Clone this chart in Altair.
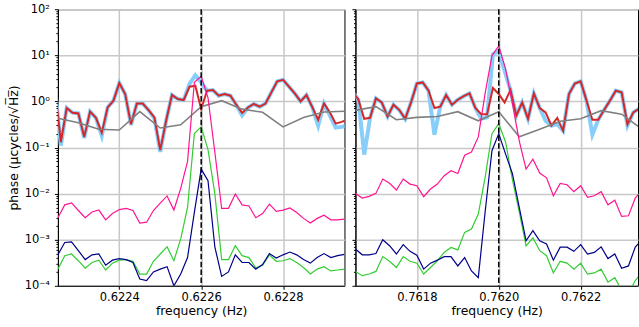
import altair as alt
import pandas as pd

CENTER_L = 0.6226
CENTER_R = 0.7620
FINE_STEP = 50.0 / 3.0    # microHz, pink / green / blue
RED_STEP = 100.0 / 7.0    # microHz, red / light blue
GRAY_STEP = 50.0          # microHz, gray

# ---------------- left panel (around 0.6226 Hz) ----------------
L_red = [2.0, 0.13, 0.72, 0.57, 0.55, 0.17, 0.60, 0.44, 0.21, 0.74, 1.04, 2.5, 1.45, 0.32, 0.9, 0.9,
         0.65, 0.45, 0.088, 0.38, 1.38, 1.13, 1.07, 2.08, 2.19, 0.68, 1.71, 1.77, 1.33, 1.45, 1.33,
         0.85, 0.56, 0.74, 0.88, 0.77, 0.9, 1.57, 2.72, 2.95, 2.1, 1.49, 1.0, 1.38, 0.75, 0.40, 0.9,
         0.58, 0.33, 0.36, 0.40]
L_lblue = [2.0, 0.11, 0.72, 0.57, 0.55, 0.16, 0.60, 0.44, 0.18, 0.74, 1.04, 2.5, 1.45, 0.31, 0.9, 0.9,
           0.65, 0.43, 0.08, 0.38, 1.38, 1.13, 1.07, 2.4, 3.7, 2.6, 1.71, 1.77, 1.33, 1.45, 1.33,
           0.85, 0.5, 0.74, 0.88, 0.77, 0.9, 1.57, 2.72, 2.95, 2.1, 1.49, 1.0, 1.38, 0.75, 0.30, 0.9,
           0.5, 0.27, 0.28, 0.3]
L_gray = [0.43, 0.345, 0.25, 0.24, 0.60, 0.265, 0.31, 0.77, 1.04, 0.68, 0.58, 0.28, 0.45, 0.59, 0.61]
L_pink = [0.0030, 0.0057, 0.0063, 0.0043, 0.0030, 0.0040, 0.0044, 0.0027, 0.0037, 0.0045, 0.0048,
          0.0043, 0.0023, 0.0024, 0.0043, 0.0062, 0.0089, 0.0044, 0.013, 0.05, 2.6, 3.5, 1.2, 0.08,
          0.0048, 0.0048, 0.0098, 0.0057, 0.0054, 0.0030, 0.0037, 0.0059, 0.0041, 0.0044, 0.0049,
          0.0039, 0.0029, 0.0023, 0.0029, 0.0034, 0.0027, 0.0027, 0.0028]
L_green = [0.00023, 0.00045, 0.00049, 0.00035, 0.00024, 0.00032, 0.00036, 0.00022, 0.00031, 0.00036,
           0.00037, 0.00034, 0.00018, 0.00018, 0.00034, 0.00049, 0.0007, 0.00035, 0.00104, 0.005, 0.2,
           0.28, 0.09, 0.01, 0.00037, 0.00037, 0.00074, 0.00045, 0.00041, 0.000245, 0.00028, 0.00047,
           0.00034, 0.00035, 0.00039, 0.00032, 0.00025, 0.00018, 0.00023, 0.00026, 0.00021, 0.00022,
           0.00023]
L_blue = [0.00047, 0.00087, 0.0009, 0.00058, 0.00037, 0.00047, 0.00049, 0.00028, 0.00036, 0.00039,
          0.00037, 0.00032, 0.00014, 0.00013, 0.0002, 0.00023, 0.00026, 0.0001, 0.00018, 0.00041,
          0.0039, 0.034, 0.019, 0.0007, 0.00016, 0.0002, 0.00047, 0.00032, 0.00032, 0.00023, 0.00029,
          0.0005, 0.0004, 0.00047, 0.00054, 0.00047, 0.00037, 0.00031, 0.00041, 0.0005, 0.00041,
          0.00045, 0.00048]

# ---------------- right panel (around 0.7620 Hz) ----------------
R_red = [1.6, 1.1, 0.42, 0.44, 1.16, 0.95, 0.47, 0.85, 0.65, 0.42, 0.95, 2.45, 2.58, 1.71, 0.72, 0.77,
         1.38, 0.85, 1.09, 1.3, 1.49, 0.72, 0.53, 0.53, 1.95, 1.45, 0.95, 1.77, 0.49, 0.95, 0.42, 1.49,
         0.72, 0.58, 0.30, 0.44, 0.23, 1.45, 2.45, 2.72, 1.04, 0.40, 0.40, 0.65, 1.04, 1.71, 1.57, 0.32,
         0.58, 0.7, 0.7]
R_lblue = [1.6, 1.1, 0.07, 0.44, 1.16, 0.95, 0.47, 0.85, 0.65, 0.42, 0.95, 2.45, 2.58, 1.71, 0.19, 0.77,
           1.38, 0.85, 1.09, 1.3, 1.49, 0.72, 0.42, 0.45, 10.6, 12.6, 4.6, 1.77, 0.49, 0.95, 0.42, 1.49,
           0.72, 0.38, 0.30, 0.32, 0.23, 1.45, 2.45, 2.72, 1.04, 0.19, 0.40, 0.65, 1.04, 1.71, 1.57, 0.3,
           0.58, 0.7, 0.7]
R_gray = [0.64, 0.77, 0.40, 0.45, 0.47, 0.60, 0.38, 0.60, 0.171, 0.25, 0.37, 0.42, 0.63, 0.53, 0.25]
R_pink = [0.0101, 0.0080, 0.0087, 0.0101, 0.0207, 0.0167, 0.012, 0.0207, 0.0161, 0.0148, 0.0086,
          0.0126, 0.0161, 0.0245, 0.0314, 0.0274, 0.068, 0.08, 0.17, 1.5, 9.8, 16.0, 5.0, 0.9, 0.14,
          0.034, 0.056, 0.028, 0.022, 0.009, 0.0166, 0.0156, 0.011, 0.0148, 0.0083, 0.009, 0.011,
          0.0057, 0.0072, 0.0032, 0.0033, 0.008, 0.012]
R_green = [0.000205, 0.000166, 0.00018, 0.000205, 0.00043, 0.00034, 0.00025, 0.00043, 0.00034,
           0.00031, 0.00018, 0.00025, 0.00035, 0.00053, 0.00068, 0.0006, 0.00144, 0.0017, 0.0036,
           0.0225, 0.2, 0.33, 0.13, 0.02, 0.004, 0.00073, 0.0011, 0.00058, 0.00045, 0.00019, 0.00034,
           0.00031, 0.00023, 0.00031, 0.00018, 0.00019, 0.00023, 0.00012, 0.00015, 0.00008, 0.00007,
           0.00013, 0.0002]
R_blue = [0.00063, 0.00047, 0.00047, 0.0005, 0.001, 0.00074, 0.00049, 0.00078, 0.00056, 0.00046,
          0.00023, 0.00031, 0.00036, 0.00043, 0.00043, 0.00027, 0.00041, 0.00021, 0.00015, 0.004,
          0.085, 0.2, 0.072, 0.027, 0.005, 0.00095, 0.00157, 0.00095, 0.00081, 0.00036, 0.00069,
          0.00069, 0.00056, 0.00078, 0.00049, 0.00053, 0.0007, 0.00039, 0.00049, 0.00024, 0.00027,
          0.00069, 0.001]

MAJORS = [0.0001, 0.001, 0.01, 0.1, 1, 10, 100]
MINORS = [m * e for e in [0.0001, 0.001, 0.01, 0.1, 1, 10] for m in range(2, 10)]
MAJOR_TEST = "indexof([0.0001,0.001,0.01,0.1,1,10,100], datum.value) >= 0"
LABEL_EXPR = ("datum.value == 100 ? '10²' : datum.value == 10 ? '10¹' : datum.value == 1 ? '10⁰' : "
              "datum.value == 0.1 ? '10⁻¹' : datum.value == 0.01 ? '10⁻²' : "
              "datum.value == 0.001 ? '10⁻³' : datum.value == 0.0001 ? '10⁻⁴' : ''")

FONT = "DejaVu Sans"
FS_LABEL = 11.5
FS_TITLE = 12.4


def series_df(center, values, step):
    n = (len(values) - 1) // 2
    return pd.DataFrame({
        "f": [center + (i - n) * step * 1e-6 for i in range(len(values))],
        "v": values,
    })


def panel(center, red, lblue, gray, pink, green, blue, width, xmax, first):
    xscale = alt.Scale(domain=[center - 350e-6, center + xmax * 1e-6], nice=False, zero=False)
    yscale = alt.Scale(type="log", domain=[1e-4, 1e2], nice=False)
    xaxis = alt.Axis(values=[round(center - 2e-4, 4), center, round(center + 2e-4, 4)], format=".4f",
                     title="frequency (Hz)", tickSize=3.5, labelPadding=2, titlePadding=2)
    yaxis = alt.Axis(values=MAJORS + MINORS, labelExpr=LABEL_EXPR, labels=first, labelOverlap=False,
                     title="phase (μcycles/√H̅z̅)" if first else None,
                     tickSize={"condition": {"test": MAJOR_TEST, "value": 3.5}, "value": 2},
                     gridOpacity={"condition": {"test": MAJOR_TEST, "value": 1}, "value": 0},
                     labelPadding=5, titlePadding=4)
    x = alt.X("f:Q", scale=xscale, axis=xaxis)
    y = alt.Y("v:Q", scale=yscale, axis=yaxis)
    specs = [
        (lblue, RED_STEP, "#87cefa", 4.0),
        (red, RED_STEP, "#d62728", 2.0),
        (gray, GRAY_STEP, "#808080", 1.6),
        (pink, FINE_STEP, "#ff1493", 1.2),
        (green, FINE_STEP, "#32cd32", 1.2),
        (blue, FINE_STEP, "#00008b", 1.2),
    ]
    layers = []
    for vals, step, color, sw in specs:
        layers.append(
            alt.Chart(series_df(center, vals, step))
            .mark_line(color=color, strokeWidth=sw, clip=True)
            .encode(x=x, y=y)
        )
    rule = (
        alt.Chart(pd.DataFrame({"f": [center]}))
        .mark_rule(color="black", strokeDash=[5.5, 2.4], strokeWidth=1.5)
        .encode(x=x)
    )
    return alt.layer(*layers, rule).properties(width=width, height=277)


left = panel(CENTER_L, L_red, L_lblue, L_gray, L_pink, L_green, L_blue, 287, 350, True)
right = panel(CENTER_R, R_red, R_lblue, R_gray, R_pink, R_green, R_blue, 283, 340, False)

chart = (
    alt.hconcat(left, right, spacing=11, bounds="flush")
    .properties(padding={"left": 6, "top": 2, "right": 0, "bottom": 0}, background="white")
    .configure_view(stroke="black", strokeWidth=1)
    .configure_axis(
        domainColor="black", domainWidth=1, tickColor="black", tickWidth=1,
        gridColor="#c8c8c8", gridWidth=1.5,
        labelFont=FONT, labelFontSize=FS_LABEL, labelColor="black",
        titleFont=FONT, titleFontSize=FS_TITLE, titleFontWeight="normal", titleColor="black",
    )
)

chart.save("out.html", embed_options={"renderer": "svg", "actions": False})
